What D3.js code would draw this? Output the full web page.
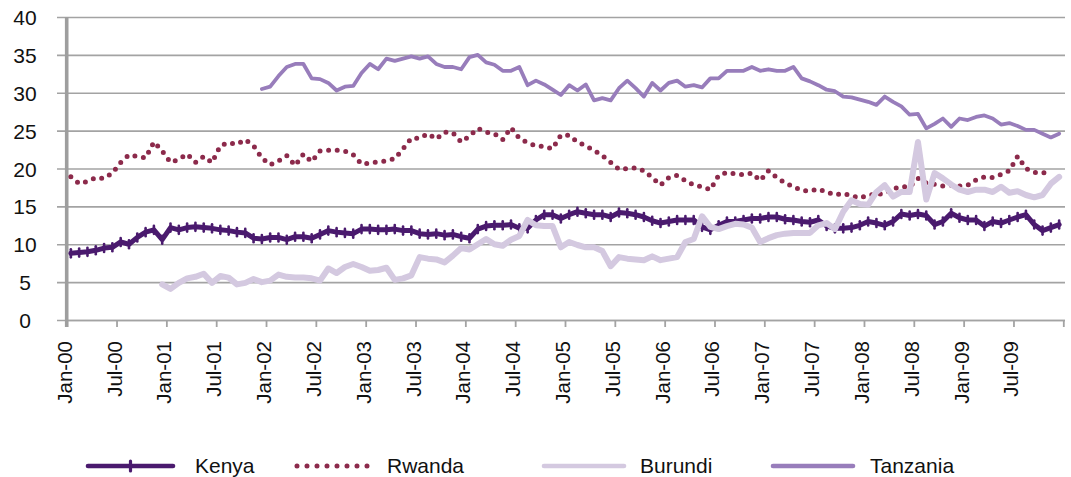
<!DOCTYPE html>
<html>
<head>
<meta charset="utf-8">
<script src="https://cdn.jsdelivr.net/npm/d3@7"></script>
<style>
  html, body { margin: 0; padding: 0; background: #fff; }
  svg { display: block; font-family: "Liberation Sans", Arial, Helvetica, sans-serif; }
</style>
</head>
<body>
<svg id="chart" width="1071" height="477"></svg>
<script>
// ---------- data ----------
const startMonth = new Date(Date.UTC(2000, 0, 1));
const endMonth = new Date(Date.UTC(2010, 0, 1));
const months = d3.utcMonths(startMonth, endMonth); // Jan-00 .. Dec-09 (120 categories)

const tickLabels = ["Jan-00","Jul-00","Jan-01","Jul-01","Jan-02","Jul-02","Jan-03","Jul-03","Jan-04","Jul-04",
                    "Jan-05","Jul-05","Jan-06","Jul-06","Jan-07","Jul-07","Jan-08","Jul-08","Jan-09","Jul-09"];
const yTicks = [0, 5, 10, 15, 20, 25, 30, 35, 40];

const kenya = [
  8.8, 8.9, 9.0, 9.2, 9.5, 9.6, 10.3, 10.0, 10.9, 11.6,
  11.9, 10.6, 12.2, 11.9, 12.2, 12.3, 12.2, 12.1, 11.9, 11.8,
  11.6, 11.5, 10.8, 10.7, 10.9, 10.9, 10.6, 11.0, 11.0, 10.8,
  11.3, 11.8, 11.6, 11.5, 11.4, 12.0, 12.0, 11.9, 11.9, 12.0,
  11.8, 11.8, 11.4, 11.3, 11.4, 11.2, 11.3, 11.0, 10.8, 12.0,
  12.4, 12.5, 12.5, 12.6, 12.1, 12.1, 13.2, 13.9, 13.9, 13.4,
  13.9, 14.3, 14.1, 13.9, 13.9, 13.6, 14.2, 14.1, 13.9, 13.6,
  13.1, 12.8, 13.0, 13.2, 13.2, 13.2, 12.3, 11.9, 12.5, 13.0,
  13.0, 13.2, 13.4, 13.4, 13.6, 13.6, 13.3, 13.2, 13.0, 12.9,
  13.2, 12.4, 12.1, 12.1, 12.2, 12.5, 13.0, 12.8, 12.5, 13.0,
  14.0, 13.8, 14.0, 13.8, 12.6, 13.0, 14.1, 13.5, 13.2, 13.2,
  12.4, 13.0, 12.8, 13.2, 13.6, 13.9, 12.6, 11.8, 12.2, 12.6
];

const rwanda = [
  18.9, 18.0, 18.3, 18.8, 18.7, 19.4, 20.8, 21.8, 21.6, 21.4,
  23.5, 22.3, 20.8, 21.2, 21.9, 20.8, 21.6, 20.8, 23.0, 23.4,
  23.2, 23.8, 23.0, 21.4, 20.5, 21.0, 21.7, 20.4, 21.9, 20.9,
  22.3, 22.4, 22.4, 22.3, 21.8, 20.6, 20.7, 20.9, 21.0, 21.3,
  22.6, 24.0, 24.0, 24.6, 23.9, 24.8, 24.7, 23.5, 24.3, 25.3,
  24.8, 24.6, 23.8, 25.4, 24.0, 23.4, 23.0, 22.9, 22.6, 24.4,
  24.4, 23.5, 23.0, 22.4, 21.7, 20.8, 19.9, 20.0, 20.1, 19.7,
  18.8, 17.8, 18.8, 19.1, 18.4, 17.8, 17.6, 17.2, 19.1, 19.5,
  19.3, 19.2, 19.4, 18.4, 19.7, 18.8, 18.1, 17.6, 17.1, 17.0,
  17.3, 16.9, 16.5, 16.7, 16.4, 16.1, 16.5, 16.6, 16.7, 17.3,
  17.6, 17.6, 18.7, 18.1, 17.9, 17.7, 17.8, 17.7, 17.8, 18.5,
  18.9, 18.8, 19.2, 19.7, 21.6, 20.0, 19.5, 19.4, 19.7, null
];

const burundi = [
  null, null, null, null, null, null, null, null, null, null,
  null, 4.7, 4.1, 4.9, 5.5, 5.7, 6.1, 4.9, 5.8, 5.6,
  4.7, 4.9, 5.4, 5.0, 5.2, 6.0, 5.7, 5.6, 5.6, 5.5,
  5.2, 6.8, 6.2, 7.0, 7.4, 7.0, 6.5, 6.6, 6.9, 5.3,
  5.5, 5.9, 8.3, 8.1, 8.0, 7.6, 8.5, 9.5, 9.3, 10.0,
  10.7, 10.0, 9.8, 10.6, 11.1, 13.2, 12.5, 12.4, 12.4, 9.6,
  10.3, 9.9, 9.6, 9.6, 9.1, 7.1, 8.3, 8.1, 8.0, 7.9,
  8.4, 7.9, 8.1, 8.3, 10.3, 10.7, 13.7, 12.3, 12.0, 12.4,
  12.7, 12.6, 12.2, 10.3, 10.8, 11.2, 11.4, 11.5, 11.5, 11.5,
  12.5, 12.8, 12.0, 14.3, 15.8, 15.3, 15.2, 16.9, 17.8, 16.3,
  16.9, 16.9, 23.5, 15.9, 19.4, 18.7, 17.9, 17.2, 16.9, 17.2,
  17.2, 16.9, 17.6, 16.8, 17.0, 16.5, 16.2, 16.5, 18.0, 18.9
];

const tanzania = [
  null, null, null, null, null, null, null, null, null, null,
  null, null, null, null, null, null, null, null, null, null,
  null, null, null, 30.5, 30.8, 32.2, 33.4, 33.8, 33.8, 31.9,
  31.8, 31.3, 30.3, 30.8, 30.9, 32.6, 33.8, 33.1, 34.5, 34.2,
  34.5, 34.8, 34.5, 34.8, 33.8, 33.4, 33.4, 33.1, 34.7, 35.0,
  34.0, 33.7, 32.9, 32.9, 33.4, 31.0, 31.6, 31.1, 30.4, 29.7,
  31.0, 30.3, 31.1, 29.0, 29.3, 29.0, 30.6, 31.6, 30.6, 29.5,
  31.3, 30.3, 31.3, 31.6, 30.8, 31.0, 30.7, 31.9, 31.9, 32.9,
  32.9, 32.9, 33.4, 32.9, 33.1, 32.9, 32.9, 33.4, 31.9, 31.5,
  31.0, 30.4, 30.2, 29.5, 29.4, 29.1, 28.8, 28.4, 29.5, 28.8,
  28.2, 27.1, 27.2, 25.3, 25.9, 26.6, 25.5, 26.6, 26.4, 26.8,
  27.0, 26.6, 25.8, 26.0, 25.6, 25.1, 25.1, 24.6, 24.1, 24.6
];

const seriesNames = ["Kenya", "Rwanda", "Burundi", "Tanzania"];

// ---------- layout ----------
const svg = d3.select("#chart");
const X0 = 66.7, X1 = 1063.3, GRID_LEFT = 57, GRID_RIGHT = 1065;
const Y_BOTTOM = 320, Y_TOP = 17;

const x = d3.scaleBand().domain(d3.range(months.length)).range([X0, X1]).padding(0);
const cx = i => x(i) + x.bandwidth() / 2;
const xEdge = d3.scaleLinear().domain([0, months.length]).range([X0, X1]);
const y = d3.scaleLinear().domain([0, 40]).range([Y_BOTTOM, Y_TOP]);

const gridColor = "#a3a3a3";
const colors = { Kenya: "#4a1a6e", Rwanda: "#8c2a4b", Burundi: "#d4c9e0", Tanzania: "#987dbb" };

// y gridlines + labels
const yAxis = svg.append("g")
  .attr("transform", `translate(${GRID_LEFT},0)`)
  .call(d3.axisLeft(y).tickValues(yTicks).tickSize(-(GRID_RIGHT - GRID_LEFT)).tickFormat(d3.format("d")));
yAxis.select(".domain").remove();
yAxis.selectAll(".tick line").attr("stroke", gridColor).attr("stroke-width", 1.6);
yAxis.selectAll(".tick text")
  .attr("x", 25 - GRID_LEFT)
  .attr("dy", "0.36em")
  .attr("text-anchor", "middle")
  .attr("font-size", 21)
  .attr("font-family", "'Liberation Sans', Arial, sans-serif")
  .attr("fill", "#111");

// x axis
const xAxis = svg.append("g")
  .attr("transform", `translate(0,${Y_BOTTOM})`)
  .call(d3.axisBottom(xEdge)
    .tickValues(d3.range(0, months.length + 1, 6))
    .tickSize(7)
    .tickFormat(i => tickLabels[i / 6] || ""));
xAxis.select(".domain").attr("stroke", gridColor).attr("stroke-width", 1.6)
  .attr("d", `M${X0},0.5H${GRID_RIGHT}`);
xAxis.selectAll(".tick line").attr("stroke", gridColor).attr("stroke-width", 1.8);
xAxis.selectAll(".tick text")
  .attr("x", 0).attr("y", 0).attr("dy", null)
  .attr("text-anchor", "end")
  .attr("transform", "translate(4.5,21) rotate(-90)")
  .attr("font-size", 20.5)
  .attr("font-family", "'Liberation Sans', Arial, sans-serif")
  .attr("fill", "#111");

// y axis vertical line
svg.append("line")
  .attr("x1", X0).attr("x2", X0)
  .attr("y1", y(40)).attr("y2", Y_BOTTOM + 7)
  .attr("stroke", "#9e9e9e").attr("stroke-width", 3.6);

// ---------- series ----------
const lineGen = data => d3.line()
  .defined(d => d != null)
  .x((d, i) => cx(i))
  .y(d => y(d))(data);

const plot = svg.append("g");

// Kenya: thick line with small cross markers
plot.append("path").attr("d", lineGen(kenya))
  .attr("fill", "none").attr("stroke", colors.Kenya)
  .attr("stroke-width", 5).attr("stroke-linejoin", "round").attr("stroke-linecap", "round");
plot.append("g").selectAll("line").data(kenya).join("line")
  .attr("x1", (d, i) => cx(i)).attr("x2", (d, i) => cx(i))
  .attr("y1", d => y(d) - 4).attr("y2", d => y(d) + 4)
  .attr("stroke", colors.Kenya).attr("stroke-width", 2.6).attr("stroke-linecap", "round");

// Rwanda: round dotted line
plot.append("path").attr("d", lineGen(rwanda))
  .attr("fill", "none").attr("stroke", colors.Rwanda)
  .attr("stroke-width", 5).attr("stroke-linecap", "round").attr("stroke-linejoin", "round")
  .attr("stroke-dasharray", "0 8.6");

// Burundi
plot.append("path").attr("d", lineGen(burundi))
  .attr("fill", "none").attr("stroke", colors.Burundi)
  .attr("stroke-width", 6).attr("stroke-linejoin", "round").attr("stroke-linecap", "round");

// Tanzania
plot.append("path").attr("d", lineGen(tanzania))
  .attr("fill", "none").attr("stroke", colors.Tanzania)
  .attr("stroke-width", 3.8).attr("stroke-linejoin", "round").attr("stroke-linecap", "round");

// ---------- legend ----------
const legendY = 466;
const legendItems = [
  { name: "Kenya", x1: 88, x2: 173, tx: 195 },
  { name: "Rwanda", x1: 297, x2: 377, tx: 387 },
  { name: "Burundi", x1: 544, x2: 624, tx: 640 },
  { name: "Tanzania", x1: 773, x2: 853, tx: 870 }
];
const lg = svg.append("g");
legendItems.forEach(it => {
  const ln = lg.append("line")
    .attr("x1", it.x1).attr("x2", it.x2).attr("y1", legendY).attr("y2", legendY)
    .attr("stroke", colors[it.name]).attr("stroke-linecap", "round");
  if (it.name === "Rwanda") {
    ln.attr("stroke-width", 5).attr("stroke-dasharray", "0 10");
  } else {
    ln.attr("stroke-width", 4.6);
  }
  if (it.name === "Kenya") {
    const mx = (it.x1 + it.x2) / 2;
    lg.append("line").attr("x1", mx).attr("x2", mx).attr("y1", legendY - 5).attr("y2", legendY + 5)
      .attr("stroke", colors.Kenya).attr("stroke-width", 3.2).attr("stroke-linecap", "round");
  }
  lg.append("text").attr("x", it.tx).attr("y", 473)
    .attr("font-size", 21).attr("fill", "#111")
    .attr("font-family", "'Liberation Sans', Arial, sans-serif")
    .text(it.name);
});
</script>
</body>
</html>
